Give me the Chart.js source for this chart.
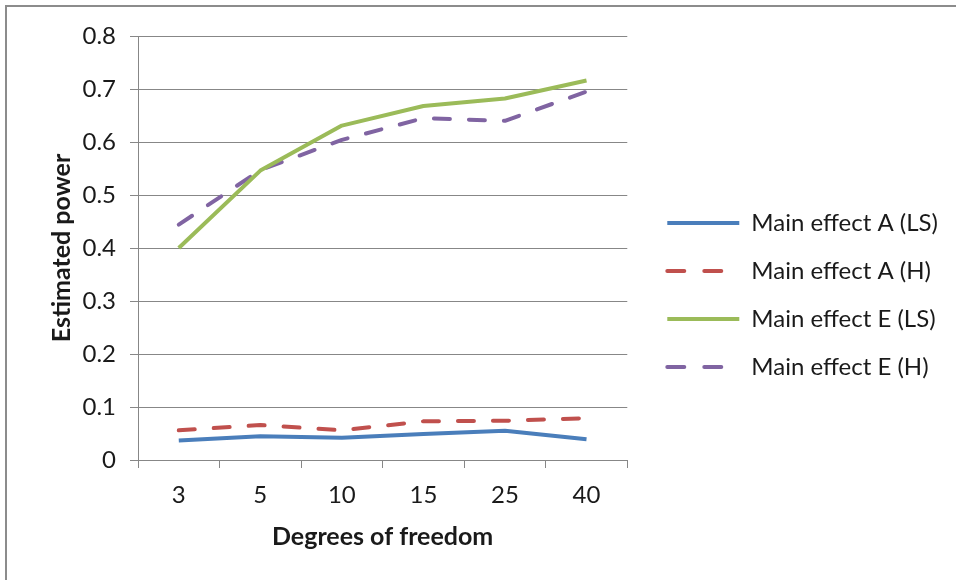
<!DOCTYPE html>
<html>
<head>
<meta charset="utf-8">
<script src="https://cdn.jsdelivr.net/npm/chart.js@4.4.0/dist/chart.umd.min.js"></script>
<style>
    html, body { margin: 0; padding: 0; background: #fff; overflow: hidden; }
    #frame { position: absolute; left: 5px; top: 5px; width: 951px; height: 575px;
             border-left: 2px solid #8c8c8c; border-top: 2px solid #8c8c8c; box-sizing: border-box; }
    #wrap { position: absolute; left: 0; top: 0; width: 956px; height: 580px; }
</style>
</head>
<body>
<div id="frame"></div>
<div id="wrap"><canvas id="powerTrend"></canvas></div>
<script>
const degreesOfFreedom = ['3', '5', '10', '15', '25', '40'];
const mainEffectA_LS = [0.037, 0.045, 0.042, 0.049, 0.055, 0.039];
const mainEffectA_H = [0.056, 0.066, 0.056, 0.073, 0.074, 0.079];
const mainEffectE_LS = [0.400, 0.546, 0.631, 0.668, 0.682, 0.716];
const mainEffectE_H = [0.444, 0.547, 0.604, 0.645, 0.640, 0.695];
const yTicks = [0, 0.1, 0.2, 0.3, 0.4, 0.5, 0.6, 0.7, 0.8];

const gridGrey = '#878787';
const textColor = '#1a1a1a';
const fontFamily = 'Lato, "Open Sans", sans-serif';

function seriesLine(label, values, color, dashed) {
    return {
        label: label,
        data: values,
        borderColor: color,
        backgroundColor: color,
        borderWidth: 4,
        borderDash: dashed ? [16, 19] : [],
        borderCapStyle: dashed ? 'round' : 'butt',
        borderJoinStyle: 'round',
        pointRadius: 0,
        pointHoverRadius: 0,
        tension: 0,
        fill: false,
        xAxisID: 'x',
        yAxisID: 'y',
    };
}

// legend lines: take dash and cap from the dataset line, not from the point style
function legendLines(chart) {
    const items = Chart.defaults.plugins.legend.labels.generateLabels(chart);
    return items.map((item) => {
        const ds = chart.data.datasets[item.datasetIndex];
        item.lineDash = ds.borderDash.length ? [17, 20] : [];
        item.lineCap = ds.borderCapStyle;
        item.lineWidth = 4;
        item.strokeStyle = ds.borderColor;
        return item;
    });
}

const canvasForPower = document.getElementById('powerTrend');

let configPowerChart = {
    type: 'line',
    data: {
        labels: degreesOfFreedom,
        datasets: [
            seriesLine('Main effect A (LS)', mainEffectA_LS, '#4a7ebb', false),
            seriesLine('Main effect A (H)', mainEffectA_H, '#c0504d', true),
            seriesLine('Main effect E (LS)', mainEffectE_LS, '#9bbb59', false),
            seriesLine('Main effect E (H)', mainEffectE_H, '#8064a2', true),
        ],
    },
    options: {
        responsive: true,
        maintainAspectRatio: false,
        animation: false,
        layout: { padding: { left: 10, top: 10, right: 8, bottom: 0 } },
        plugins: {
            tooltip: { enabled: false },
            legend: {
                position: 'right',
                align: 'center',
                maxWidth: 400,
                labels: {
                    usePointStyle: true,
                    pointStyle: 'line',
                    pointStyleWidth: 72,
                    padding: 24,
                    color: textColor,
                    font: { family: fontFamily, size: 24 },
                    generateLabels: legendLines,
                },
            },
        },
        scales: {
            x: {
                type: 'category',
                position: 'bottom',
                offset: true,
                afterFit: (scale) => { scale.height = 120; },
                grid: {
                    offset: true,
                    drawOnChartArea: false,
                    drawTicks: true,
                    tickLength: 8,
                    color: gridGrey,
                },
                border: { display: true, color: gridGrey },
                ticks: {
                    color: textColor,
                    padding: 13,
                    font: { family: fontFamily, size: 24 },
                },
                title: {
                    display: true,
                    text: 'Degrees of freedom',
                    color: textColor,
                    font: { family: fontFamily, size: 25, weight: 'bold' },
                    padding: { top: 6, bottom: 28 },
                },
            },
            xTop: {
                type: 'category',
                position: 'top',
                afterFit: (scale) => { scale.height = 26; },
                grid: { display: false },
                border: { display: false },
                ticks: { display: false },
            },
            y: {
                type: 'linear',
                position: 'left',
                min: 0,
                max: 0.8,
                afterFit: (scale) => { scale.width = 128; },
                afterBuildTicks: (scale) => { scale.ticks = yTicks.map(v => ({ value: v })); },
                grid: {
                    color: gridGrey,
                    drawTicks: true,
                    tickLength: 8,
                },
                border: { display: true, color: gridGrey },
                ticks: {
                    color: textColor,
                    padding: 14,
                    font: { family: fontFamily, size: 24 },
                    callback: (value) => value === 0 ? '0' : value.toFixed(1),
                },
                title: {
                    display: true,
                    text: 'Estimated power',
                    color: textColor,
                    font: { family: fontFamily, size: 25, weight: 'bold' },
                    padding: { top: 37, bottom: 4 },
                },
            },
            yRight: {
                type: 'linear',
                position: 'right',
                afterFit: (scale) => { scale.width = 16; },
                grid: { display: false },
                border: { display: false },
                ticks: { display: false },
            },
        },
    },
};
const powerChart = new Chart(canvasForPower, configPowerChart);
</script>
</body>
</html>
